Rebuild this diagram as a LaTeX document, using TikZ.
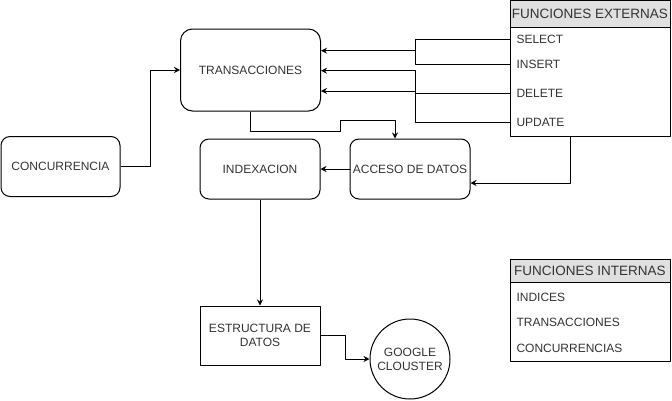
\documentclass[tikz,border=0pt]{standalone}
\usepackage{fontspec}
\setmainfont{Liberation Sans}
\usetikzlibrary{arrows.meta}
\definecolor{hdrgray}{RGB}{224,224,224}
\definecolor{txtgray}{RGB}{51,51,51}
\begin{document}
\begin{tikzpicture}[x=1pt, y=-1pt, font=\fontsize{12}{14}\selectfont, line join=round, line width=1pt, >={Stealth[length=6pt,width=6pt]},
	rbox/.style={draw, rounded corners=9pt, minimum width=120pt, minimum height=60pt, inner sep=0pt, text=txtgray, align=center},
	sbox/.style={draw, minimum width=120pt, minimum height=59pt, inner sep=0pt, text=txtgray, align=center},
	hdr/.style={draw, fill=hdrgray, minimum width=160pt, inner sep=0pt, font=\fontsize{13.5}{15}\selectfont, text=txtgray},
	tbody/.style={draw, minimum width=160pt, inner sep=0pt},
	row/.style={anchor=west, inner xsep=6pt, inner ysep=0pt, text=txtgray}]
		\useasboundingbox (0,0) rectangle (672,400);
		% boxes
		\node[rbox, rounded corners=12pt, minimum width=140pt, minimum height=82pt] (trans) at (250.5,70) {TRANSACCIONES};
		\node[rbox, minimum width=119pt] (conc) at (60.5,166.5) {CONCURRENCIA};
		\node[rbox] (index) at (260,169) {INDEXACION};
		\node[rbox] (acceso) at (410,169) {ACCESO DE DATOS};
		\node[sbox] (estr) at (260,335.5) {ESTRUCTURA DE\\DATOS};
		\node[draw, circle, minimum size=80pt, inner sep=0pt, text=txtgray, align=center] (google) at (410,359) {GOOGLE\\CLOUSTER};
		% funciones externas
		\node[hdr, minimum height=27pt] (exthdr) at (590,14) {FUNCIONES EXTERNAS};
		\node[tbody, minimum height=108.5pt] (ext) at (590,81.75) {};
		\node[row] (sel) at (510,39.5) {SELECT};
		\node[row] (ins) at (510,64.7) {INSERT};
		\node[row] (del) at (510,93) {DELETE};
		\node[row] (upd) at (510,122.3) {UPDATE};
		% funciones internas
		\node[hdr, minimum height=23pt] (inthdr) at (590,270.5) {FUNCIONES INTERNAS};
		\node[tbody, minimum height=79pt] (int) at (590,321.5) {};
		\node[row] (ind) at (510,297) {INDICES};
		\node[row] (itr) at (510,322.5) {TRANSACCIONES};
		\node[row] (icc) at (510,348) {CONCURRENCIAS};
		% connectors
		\coordinate (m1) at (415,50.7);
		\coordinate (m2) at (415,70.7);
		\coordinate (m3) at (415,91);
		\draw (sel.west) -| (m1);
		\draw (ins.west) -| (m1);
		\draw[->] (m1) -- (m1 -| trans.east);
		\draw[->] (del.west) -| (m2) -- (m2 -| trans.east);
		\draw[->] (upd.west) -| (m3) -- (m3 -| trans.east);
		\draw[->] (conc.east) -- (150,166.5) |- (trans.west);
		\coordinate (w1) at (340.7,131);
		\coordinate (w2) at (395,120.7);
		\draw[->] (trans.south) |- (w1) |- (w2) -- (w2 |- acceso.north);
		\draw[->] (acceso.west) -- (index.east);
		\coordinate (e1) at (570,183);
		\draw[->] (e1 |- ext.south) -- (e1) -- (e1 -| acceso.east);
		\draw[->] (index.south) -- (estr.north);
		\draw[->] (estr.east) -- ++(25,0) |- (google.west);
		\end{tikzpicture}
\end{document}
